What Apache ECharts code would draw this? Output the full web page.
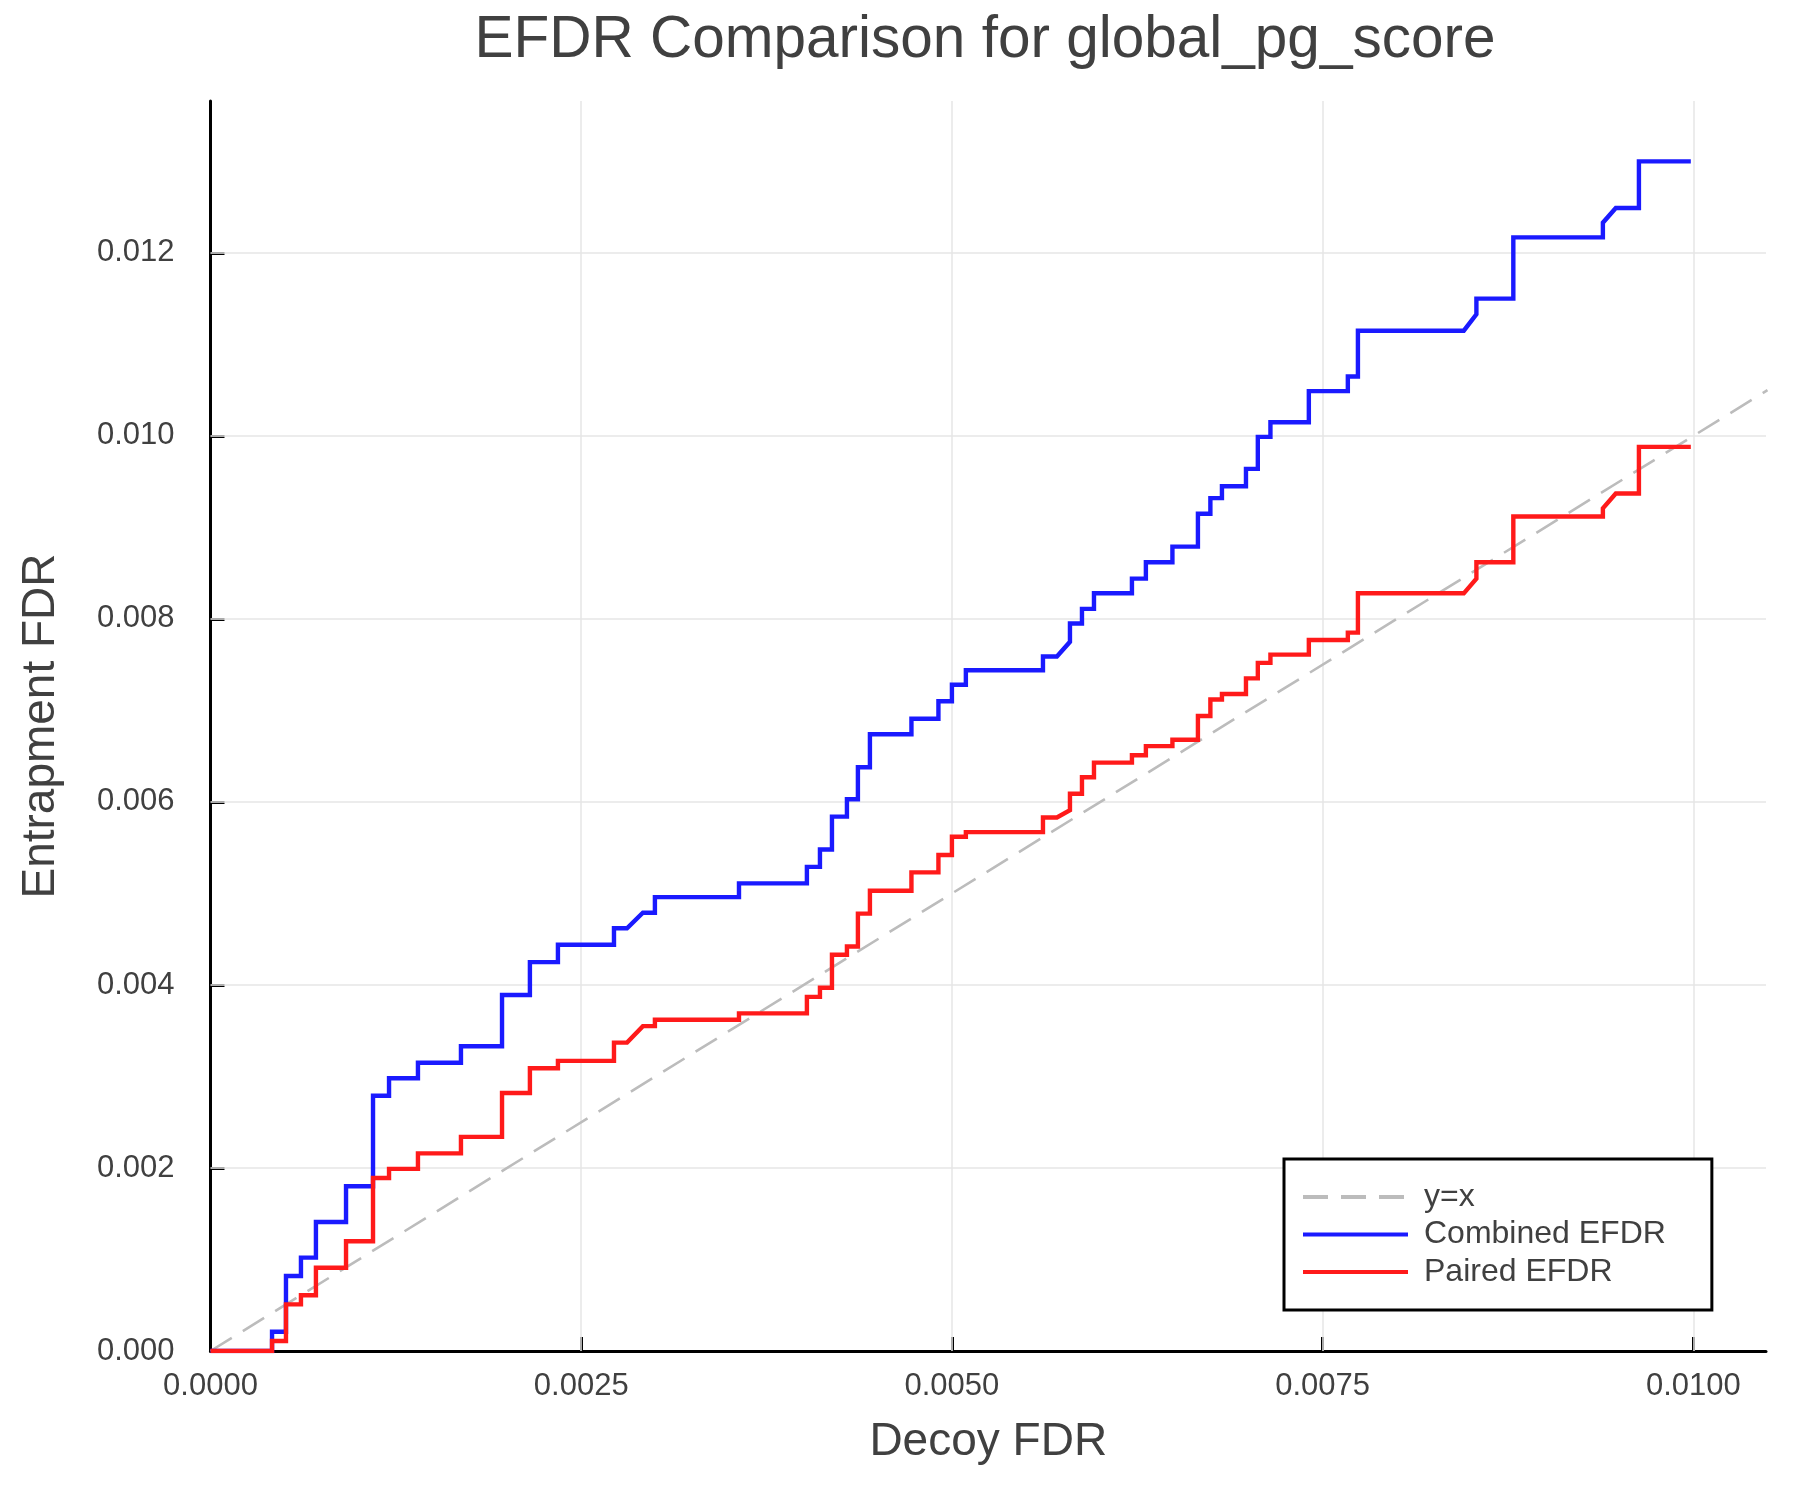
<!DOCTYPE html>
<html>
<head>
<meta charset="utf-8">
<script src="https://cdn.jsdelivr.net/npm/echarts@6/dist/echarts.min.js"></script>
<style>
html,body{margin:0;padding:0;background:#fff;}
#chart{width:1800px;height:1500px;}
</style>
</head>
<body>
<div id="chart"></div>
<script>
// ---- data ----
const decoyFdrKnots = [0.000415, 0.000509, 0.000610, 0.000711, 0.000914, 0.001096, 0.001204, 0.001399, 0.001689, 0.001966,
  0.002154, 0.002343, 0.002721, 0.002809, 0.002916, 0.002997, 0.003564, 0.004022, 0.004110, 0.004191,
  0.004292, 0.004366, 0.004447, 0.004727, 0.004909, 0.005000, 0.005094, 0.005614, 0.005708, 0.005796,
  0.005796, 0.005877, 0.005958, 0.006214, 0.006308, 0.006487, 0.006659, 0.006743, 0.006821, 0.006983,
  0.007063, 0.007148, 0.007407, 0.007670, 0.007738, 0.008452, 0.008537, 0.008537, 0.008786, 0.009390,
  0.009477, 0.009633, 0.009983];
// 'v' = vertical jump at the knot, 'd' = straight ramp from the previous point
const riseKind = ['v','v','v','v','v','v','v','v','v','v',
  'v','v','v','v','d','v','v','v','v','v',
  'v','v','v','v','v','v','v','v','v','d',
  'v','v','v','v','v','v','v','v','v','v',
  'v','v','v','v','v','v','d','v','v','v',
  'd','v','v'];
const combinedEfdr = [0.00021, 0.00082, 0.00102, 0.00141, 0.00180, 0.00279, 0.00298, 0.00315, 0.00333, 0.00389,
  0.00425, 0.00444, 0.00462, 0.00462, 0.00479, 0.00496, 0.00511, 0.00529, 0.00548, 0.00584,
  0.00603, 0.00638, 0.00674, 0.00691, 0.00710, 0.00728, 0.00744, 0.00759, 0.00759, 0.00775,
  0.00795, 0.00811, 0.00828, 0.00844, 0.00862, 0.00879, 0.00915, 0.00932, 0.00945, 0.00964,
  0.00999, 0.01015, 0.01049, 0.01065, 0.01115, 0.01115, 0.01133, 0.01150, 0.01217, 0.01233,
  0.01249, 0.01300, 0.01300];
const pairedEfdr = [0.00011, 0.00051, 0.00061, 0.00091, 0.00120, 0.00189, 0.00199, 0.00216, 0.00234, 0.00282,
  0.00309, 0.00317, 0.00337, 0.00337, 0.00355, 0.00362, 0.00369, 0.00387, 0.00397, 0.00433,
  0.00442, 0.00478, 0.00503, 0.00523, 0.00542, 0.00562, 0.00567, 0.00583, 0.00583, 0.00591,
  0.00609, 0.00627, 0.00643, 0.00651, 0.00661, 0.00668, 0.00694, 0.00712, 0.00718, 0.00735,
  0.00752, 0.00761, 0.00777, 0.00785, 0.00828, 0.00828, 0.00844, 0.00862, 0.00912, 0.00921,
  0.00937, 0.00988, 0.00988];
const identityLine = [0, 0.0105];
const xTicks = [0, 0.0025, 0.005, 0.0075, 0.01];
const yTicks = [0, 0.002, 0.004, 0.006, 0.008, 0.010, 0.012];
const xMax = 0.01049;
const yMax = 0.01366;

function buildPath(levels) {
  const pts = [[0, 0]];
  let prev = 0;
  for (let i = 0; i < decoyFdrKnots.length; i++) {
    const x = decoyFdrKnots[i];
    if (riseKind[i] === 'v') pts.push([x, prev]);
    pts.push([x, levels[i]]);
    prev = levels[i];
  }
  return pts;
}

const gridSegments = xTicks.slice(1).map(v => ({coords: [[v, 0], [v, yMax]]}))
  .concat(yTicks.slice(1).map(v => ({coords: [[0, v], [xMax, v]]})));

const FONT = 'Liberation Sans';
const TXT = '#404040';

const chart = echarts.init(document.getElementById('chart'), null, {renderer: 'canvas'});
const option = {
  backgroundColor: '#ffffff',
  animation: false,
  textStyle: {fontFamily: FONT},
  title: {
    text: 'EFDR Comparison for global_pg_score',
    left: 980, top: 6, textAlign: 'center',
    textStyle: {fontFamily: FONT, fontSize: 58.5, fontWeight: 'normal', color: TXT}
  },
  grid: {left: 210.5, right: 34, top: 101, bottom: 149, containLabel: false},
  xAxis: {
    type: 'value', min: 0, max: xMax,
    name: 'Decoy FDR', nameLocation: 'middle', nameGap: 68,
    nameTextStyle: {fontFamily: FONT, fontSize: 46, color: TXT},
    axisLine: {show: true, onZero: false, lineStyle: {color: '#000', width: 3}},
    axisTick: {show: true, inside: true, length: 14, customValues: xTicks, lineStyle: {color: '#000', width: 3}},
    axisLabel: {customValues: xTicks, margin: 20, fontFamily: FONT, fontSize: 31, color: TXT,
      formatter: v => v.toFixed(4)},
    splitLine: {show: false}
  },
  yAxis: {
    type: 'value', min: 0, max: yMax,
    name: 'Entrapment FDR', nameLocation: 'middle', nameGap: 146,
    nameTextStyle: {fontFamily: FONT, fontSize: 46, color: TXT},
    axisLine: {show: true, onZero: false, lineStyle: {color: '#000', width: 3}},
    axisTick: {show: true, inside: true, length: 14, customValues: yTicks, lineStyle: {color: '#000', width: 3}},
    axisLabel: {customValues: yTicks, margin: 36, fontFamily: FONT, fontSize: 31, color: TXT,
      formatter: v => v.toFixed(3)},
    splitLine: {show: false}
  },
  legend: {
    left: 1284, top: 1159,
    orient: 'vertical',
    itemWidth: 105, itemHeight: 14, itemGap: 3.5,
    padding: [21, 46, 21, 17],
    backgroundColor: '#ffffff',
    borderColor: '#000', borderWidth: 3, borderRadius: 0,
    itemStyle: {opacity: 0, borderWidth: 0},
    lineStyle: {width: 4},
    textStyle: {fontFamily: FONT, fontSize: 32, color: TXT, lineHeight: 34, padding: [0, 0, 0, 11]},
    data: ['y=x', 'Combined EFDR', 'Paired EFDR']
  },
  series: [
    {
      name: 'grid', type: 'lines', coordinateSystem: 'cartesian2d', silent: true, z: 1,
      data: gridSegments,
      lineStyle: {color: '#e6e6e6', width: 1.5, opacity: 1, curveness: 0}
    },
    {
      name: 'y=x', type: 'line', z: 2,
      data: identityLine.map(v => [v, v]),
      showSymbol: false, symbol: 'none',
      lineStyle: {color: '#bcbcbc', width: 2.6, type: [25, 13]},
      itemStyle: {color: '#bcbcbc'}
    },
    {
      name: 'Combined EFDR', type: 'line', z: 3,
      data: buildPath(combinedEfdr),
      showSymbol: false, symbol: 'none',
      lineStyle: {color: '#1a1aff', width: 4.4, join: 'miter'},
      itemStyle: {color: '#1a1aff'}
    },
    {
      name: 'Paired EFDR', type: 'line', z: 4,
      data: buildPath(pairedEfdr),
      showSymbol: false, symbol: 'none',
      lineStyle: {color: '#ff1a1a', width: 4.4, join: 'miter'},
      itemStyle: {color: '#ff1a1a'}
    }
  ]
};
chart.setOption(option);
</script>
</body>
</html>
